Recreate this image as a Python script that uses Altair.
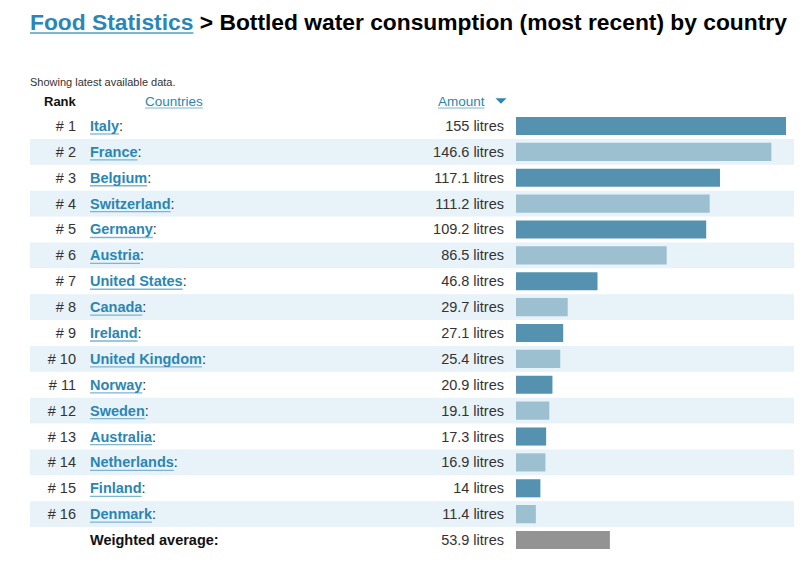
import altair as alt
import pandas as pd

# ---------------- data ----------------
countries = ["Italy", "France", "Belgium", "Switzerland", "Germany", "Austria",
             "United States", "Canada", "Ireland", "United Kingdom", "Norway",
             "Sweden", "Australia", "Netherlands", "Finland", "Denmark"]
amounts = [155, 146.6, 117.1, 111.2, 109.2, 86.5, 46.8, 29.7, 27.1, 25.4,
           20.9, 19.1, 17.3, 16.9, 14, 11.4]
ranks = [1, 2, 3, 4, 5, 6, 7, 8, 9, 10, 11, 12, 13, 14, 15, 16]
avg_label = "Weighted average:"
avg_value = 53.9
unit = "litres"
title_link = "Food Statistics"
title_rest = "> Bottled water consumption (most recent) by country"
note = "Showing latest available data."
hdr_rank = "Rank"
hdr_countries = "Countries"
hdr_amount = "Amount"

# ---------------- styling ----------------
FONT = "Liberation Sans, Arial, Helvetica, sans-serif"
W, H = 786, 545
DARK, LIGHT, AVG = "#5592B0", "#9DC0D1", "#939393"
BAND = "#E8F2F9"
LINK = "#2A86B5"
UL = "#7DB5D2"
TXT = "#333333"
FS = 14.5
TFS = 22.8

# Arial/Helvetica advance widths (1/1000 em) to size the link underlines
REG = dict(zip("ABCDEFGHIJKLMNOPQRSTUVWXYZ",
               [667, 667, 722, 722, 667, 611, 778, 722, 278, 500, 667, 556, 833,
                722, 778, 667, 778, 722, 667, 611, 722, 667, 944, 667, 667, 611]))
REG.update(zip("abcdefghijklmnopqrstuvwxyz",
               [556, 556, 500, 556, 556, 278, 556, 556, 222, 222, 500, 222, 833,
                556, 556, 556, 556, 333, 500, 278, 556, 500, 722, 500, 500, 500]))
REG.update({" ": 278, ":": 278, ".": 278, "(": 333, ")": 333, ">": 584, "#": 556})
BOLD = dict(zip("ABCDEFGHIJKLMNOPQRSTUVWXYZ",
                [722, 722, 722, 722, 667, 611, 778, 722, 278, 556, 722, 611, 833,
                 722, 778, 667, 778, 722, 667, 611, 722, 667, 944, 667, 667, 611]))
BOLD.update(zip("abcdefghijklmnopqrstuvwxyz",
                [556, 611, 556, 611, 556, 333, 611, 611, 278, 278, 556, 278, 889,
                 611, 611, 611, 611, 389, 556, 333, 611, 556, 778, 556, 556, 500]))
BOLD.update({" ": 278, ":": 333, ".": 278, "(": 333, ")": 333, ">": 584, "#": 556})


def tw(s, fs, bold=False):
    t = BOLD if bold else REG
    return sum(t.get(c, 556) for c in s) * fs / 1000.0


# layout columns (chart coordinates)
X_LEFT = 22
X_RANK_R = 68
X_COUNTRY = 82
X_AMOUNT_R = 496

# ---------------- tables ----------------
rows = pd.DataFrame({
    "row": ranks,
    "rank_label": [f"# {r}" for r in ranks],
    "country": countries,
    "amount": amounts,
    "amount_label": [f"{a:g} {unit}" for a in amounts],
    "kind": ["odd" if r % 2 else "even" for r in ranks],
})
rows["ux0"] = X_COUNTRY
rows["ux1"] = [X_COUNTRY + tw(c, FS, True) for c in countries]

bars = pd.concat([
    rows[["row", "amount", "kind"]],
    pd.DataFrame({"row": [17], "amount": [avg_value], "kind": ["avg"]}),
], ignore_index=True)
bars["zero"] = 0

bands = rows[rows["kind"] == "even"][["row"]]

avg_df = pd.DataFrame({"row": [17], "label": [avg_label],
                       "amount_label": [f"{avg_value:g} {unit}"]})

ys = alt.Scale(domain=[0.5, 17.5], range=[105, 545], nice=False, zero=False)
px = alt.Scale(domain=[0, W], range=[0, W], nice=False, zero=False)
litres = alt.Scale(domain=[0, 155], range=[508, 778], nice=False, zero=False)

band_layer = alt.Chart(bands).transform_calculate(
    y0="datum.row - 0.5", y1="datum.row + 0.5"
).mark_rect(color=BAND).encode(
    x=alt.value(X_LEFT), x2=alt.value(W),
    y=alt.Y("y0:Q", scale=ys, axis=None), y2="y1:Q",
)

bar_layer = alt.Chart(bars).transform_calculate(
    y0="datum.row - 0.35", y1="datum.row + 0.35"
).mark_rect().encode(
    x=alt.X("zero:Q", scale=litres, axis=None), x2="amount:Q",
    y=alt.Y("y0:Q", scale=ys, axis=None), y2="y1:Q",
    color=alt.Color("kind:N", scale=alt.Scale(domain=["odd", "even", "avg"],
                                              range=[DARK, LIGHT, AVG]), legend=None),
)

rank_layer = alt.Chart(rows).mark_text(
    font=FONT, fontSize=FS, color=TXT, align="right", baseline="middle", dy=1
).encode(x=alt.value(X_RANK_R), y=alt.Y("row:Q", scale=ys, axis=None), text="rank_label:N")

country_layer = alt.Chart(rows).mark_text(
    font=FONT, fontSize=FS, fontWeight="bold", color=LINK, align="left",
    baseline="middle", dy=1
).encode(x=alt.value(X_COUNTRY), y=alt.Y("row:Q", scale=ys, axis=None), text="country:N")

colon_layer = alt.Chart(rows).transform_calculate(c="':'").mark_text(
    font=FONT, fontSize=FS, color=TXT, align="left", baseline="middle", dy=1
).encode(x=alt.X("ux1:Q", scale=px, axis=None),
         y=alt.Y("row:Q", scale=ys, axis=None), text="c:N")

ul_layer = alt.Chart(rows).transform_calculate(uy="datum.row + 0.31").mark_rule(
    color=UL, strokeWidth=1.3
).encode(x=alt.X("ux0:Q", scale=px, axis=None), x2="ux1:Q",
         y=alt.Y("uy:Q", scale=ys, axis=None))

amount_layer = alt.Chart(rows).mark_text(
    font=FONT, fontSize=FS, color=TXT, align="right", baseline="middle", dy=1
).encode(x=alt.value(X_AMOUNT_R), y=alt.Y("row:Q", scale=ys, axis=None),
         text="amount_label:N")

avg_lbl_layer = alt.Chart(avg_df).mark_text(
    font=FONT, fontSize=FS, fontWeight="bold", color="#111111", align="left",
    baseline="middle", dy=1
).encode(x=alt.value(X_COUNTRY), y=alt.Y("row:Q", scale=ys, axis=None), text="label:N")

avg_amt_layer = alt.Chart(avg_df).mark_text(
    font=FONT, fontSize=FS, color=TXT, align="right", baseline="middle", dy=1
).encode(x=alt.value(X_AMOUNT_R), y=alt.Y("row:Q", scale=ys, axis=None),
         text="amount_label:N")


def label(text, x, y, size, color, bold=False, baseline="middle"):
    return alt.Chart(pd.DataFrame({"t": [text]})).mark_text(
        font=FONT, fontSize=size, color=color, align="left", baseline=baseline,
        fontWeight="bold" if bold else "normal"
    ).encode(x=alt.value(x), y=alt.value(y), text="t:N")


def underline(x0, x1, y, width):
    return alt.Chart(pd.DataFrame({"a": [0]})).mark_rule(
        color=UL, strokeWidth=width
    ).encode(x=alt.value(x0), x2=alt.value(x1), y=alt.value(y))


T_BASE = 21.5
title_a = label(title_link, X_LEFT, T_BASE, TFS, LINK, True, "alphabetic")
x_rest = X_LEFT + tw(title_link + " ", TFS, True)
title_b = label(title_rest, x_rest, T_BASE, TFS, "#000000", True, "alphabetic")
title_ul = underline(X_LEFT, X_LEFT + tw(title_link, TFS, True), 25, 2)

note_layer = label(note, X_LEFT, 75, 11, TXT)

HY = 94
HFS = 13.5
h_rank = label(hdr_rank, 36, HY, 13, "#111111", True)
h_c = label(hdr_countries, 137, HY, HFS, LINK)
h_c_ul = underline(137, 137 + tw(hdr_countries, HFS), HY + 6, 1.2)
h_a = label(hdr_amount, 430, HY, HFS, LINK)
h_a_ul = underline(430, 430 + tw(hdr_amount, HFS), HY + 6, 1.2)
tri = alt.Chart(pd.DataFrame({"a": [0]})).mark_point(
    shape="M-1,-0.5L1,-0.5L0,0.5Z", filled=True, size=121, color=LINK, opacity=1
).encode(x=alt.value(493), y=alt.value(HY - 1))

chart = alt.layer(
    band_layer, bar_layer, rank_layer, ul_layer, country_layer, colon_layer,
    amount_layer, avg_lbl_layer, avg_amt_layer,
    title_a, title_b, title_ul, note_layer,
    h_rank, h_c, h_c_ul, h_a, h_a_ul, tri,
).resolve_scale(x="independent").properties(
    width=W, height=H, padding=0, autosize=alt.AutoSizeParams(type="none"),
    background="#ffffff",
).configure_view(strokeWidth=0)

chart.save("out.html", embed_options={"renderer": "svg", "actions": False})
